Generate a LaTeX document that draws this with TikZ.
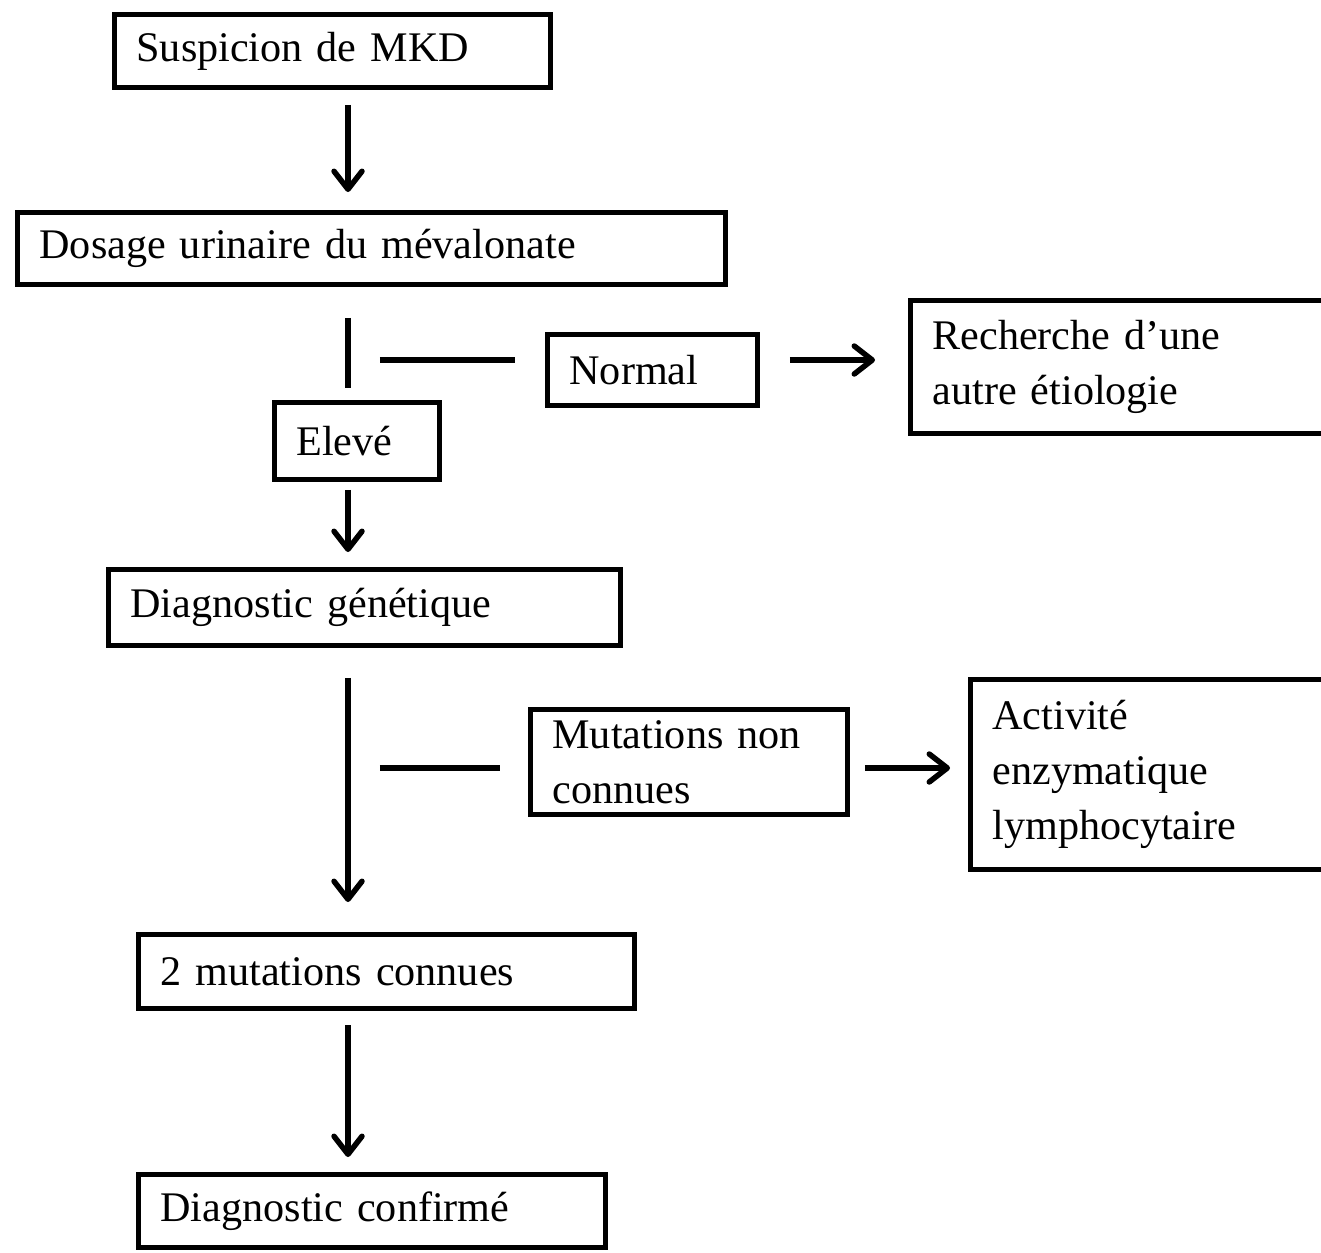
\documentclass[tikz,border=0pt]{standalone}
\usepackage{fontspec}
\setmainfont{Liberation Serif}
\usetikzlibrary{arrows.meta}
\begin{document}
\begin{tikzpicture}[x=0.02cm,y=-0.02cm,>={Straight Barb[length=0.36cm,width=0.56cm,round]},line width=0.11cm]
  \tikzstyle{box}=[draw, line width=0.1cm, anchor=north west, inner xsep=0.44cm, inner ysep=0pt,
    align=left, font=\fontsize{24}{31.3}\selectfont]
  \useasboundingbox (0,0) rectangle (1321,1252);
  \clip (0,0) rectangle (1321,1252);
  \coordinate (spine) at (348,0);
  \coordinate (row1) at (0,360);
  \coordinate (row2) at (0,768);

  \node[box, text width=7.84cm, minimum height=1.46cm] (susp) at (112,12) {Suspicion de MKD};
  \node[box, text width=13.28cm, minimum height=1.44cm] (dos) at (15,210) {Dosage urinaire du mévalonate};
  \node[box, text width=3.32cm, minimum height=1.42cm] (norm) at (545,332) {Normal};
  \node[box, text width=8.26cm, minimum height=2.66cm] (rech) at (908,298) {Recherche d’une\\autre étiologie};
  \node[box, text width=2.42cm, minimum height=1.54cm] (elev) at (272,400) {Elevé};
  \node[box, text width=9.36cm, minimum height=1.52cm] (gen) at (106,567) {Diagnostic génétique};
  \node[box, text width=5.46cm, minimum height=2.1cm] (mut) at (528,707) {Mutations non\\connues};
  \node[box, text width=7.06cm, minimum height=3.8cm] (act) at (968,677) {Activité\\enzymatique\\lymphocytaire};
  \node[box, text width=9.04cm, minimum height=1.48cm] (two) at (136,932) {2 mutations connues};
  \node[box, text width=8.46cm, minimum height=1.46cm] (conf) at (136,1172) {Diagnostic confirmé};

  \draw[->, shorten <=0.3cm, shorten >=0.36cm] (susp.south -| spine) -- (dos.north -| spine);
  \draw[shorten <=0.62cm, shorten >=0.24cm] (dos.south -| spine) -- (elev.north -| spine);
  \draw[shorten <=0.64cm, shorten >=0.6cm] (spine |- row1) -- (norm.west |- row1);
  \draw[->, shorten <=0.6cm, shorten >=0.66cm] (norm.east |- row1) -- (rech.west |- row1);
  \draw[->, shorten <=0.16cm, shorten >=0.3cm] (elev.south -| spine) -- (gen.north -| spine);
  \draw[->, shorten <=0.6cm, shorten >=0.6cm] (gen.south -| spine) -- (two.north -| spine);
  \draw[shorten <=0.64cm, shorten >=0.56cm] (spine |- row2) -- (mut.west |- row2);
  \draw[->, shorten <=0.3cm, shorten >=0.36cm] (mut.east |- row2) -- (act.west |- row2);
  \draw[->, shorten <=0.28cm, shorten >=0.3cm] (two.south -| spine) -- (conf.north -| spine);
\end{tikzpicture}
\end{document}
